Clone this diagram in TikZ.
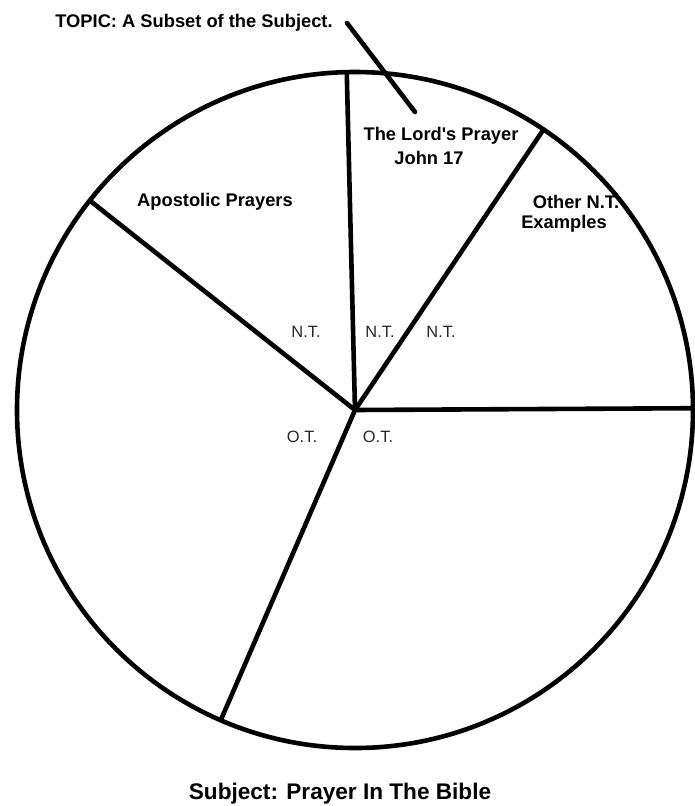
\documentclass[tikz,border=0pt]{standalone}
\usepackage{fontspec}
\setmainfont{Liberation Sans}
\usetikzlibrary{calc, positioning}

\begin{document}
\begin{tikzpicture}[x=1pt,y=-1pt,
  rim/.style={line width=4.6pt},
  lbl/.style={inner sep=0pt, font=\bfseries\fontsize{18.3}{22}\selectfont},
  tag/.style={inner sep=0pt, text=black!85, font=\fontsize{16.4}{18}\selectfont},
  heading/.style={inner sep=0pt, font=\bfseries\fontsize{22.6}{26}\selectfont}]
  \def\rad{338pt}
  \useasboundingbox (0,0) rectangle (695,806);
  \coordinate (c) at (355,410);
  \draw[rim] (c) circle (\rad);
  \foreach \ang/\nm in {91.4/top, 56.1/ne, 0.3/east, 246.6/sw, 141.7/nw}
    \coordinate (\nm) at ($(c)+(\ang:\rad)$);
  \foreach \nm in {top, ne, east, sw, nw}
    \draw[rim] (c) -- (\nm);
  % pointer to the topic slice
  \node[lbl] (topic) at (194,23) {TOPIC: A Subset of the Subject.};
  \coordinate (ptA) at (347,23);
  \coordinate (ptB) at (415,112);
  \draw[rim, line cap=round] (ptA) -- (ptB);
  \node[lbl] (lordA) at (441,136) {The Lord\textquotesingle s Prayer};
  \node[lbl] (lordB) at (429,158) {John 17};
  \node[lbl] (apost) at (215,202) {Apostolic Prayers};
  \node[lbl] (otherA) at (576,202) {Other N.T.};
  \node[lbl] (otherB) at (564,224) {Examples};
  \node[tag] (ntA) at (306,332) {N.T.};
  \node[tag] (ntB) at (380,332) {N.T.};
  \node[tag] (ntC) at (441,332) {N.T.};
  \node[tag] (otA) at (302,437) {O.T.};
  \node[tag] (otB) at (378,437) {O.T.};
  \node[heading] (subj) at (340,794) {Subject: Prayer In The Bible};
\end{tikzpicture}
\end{document}
